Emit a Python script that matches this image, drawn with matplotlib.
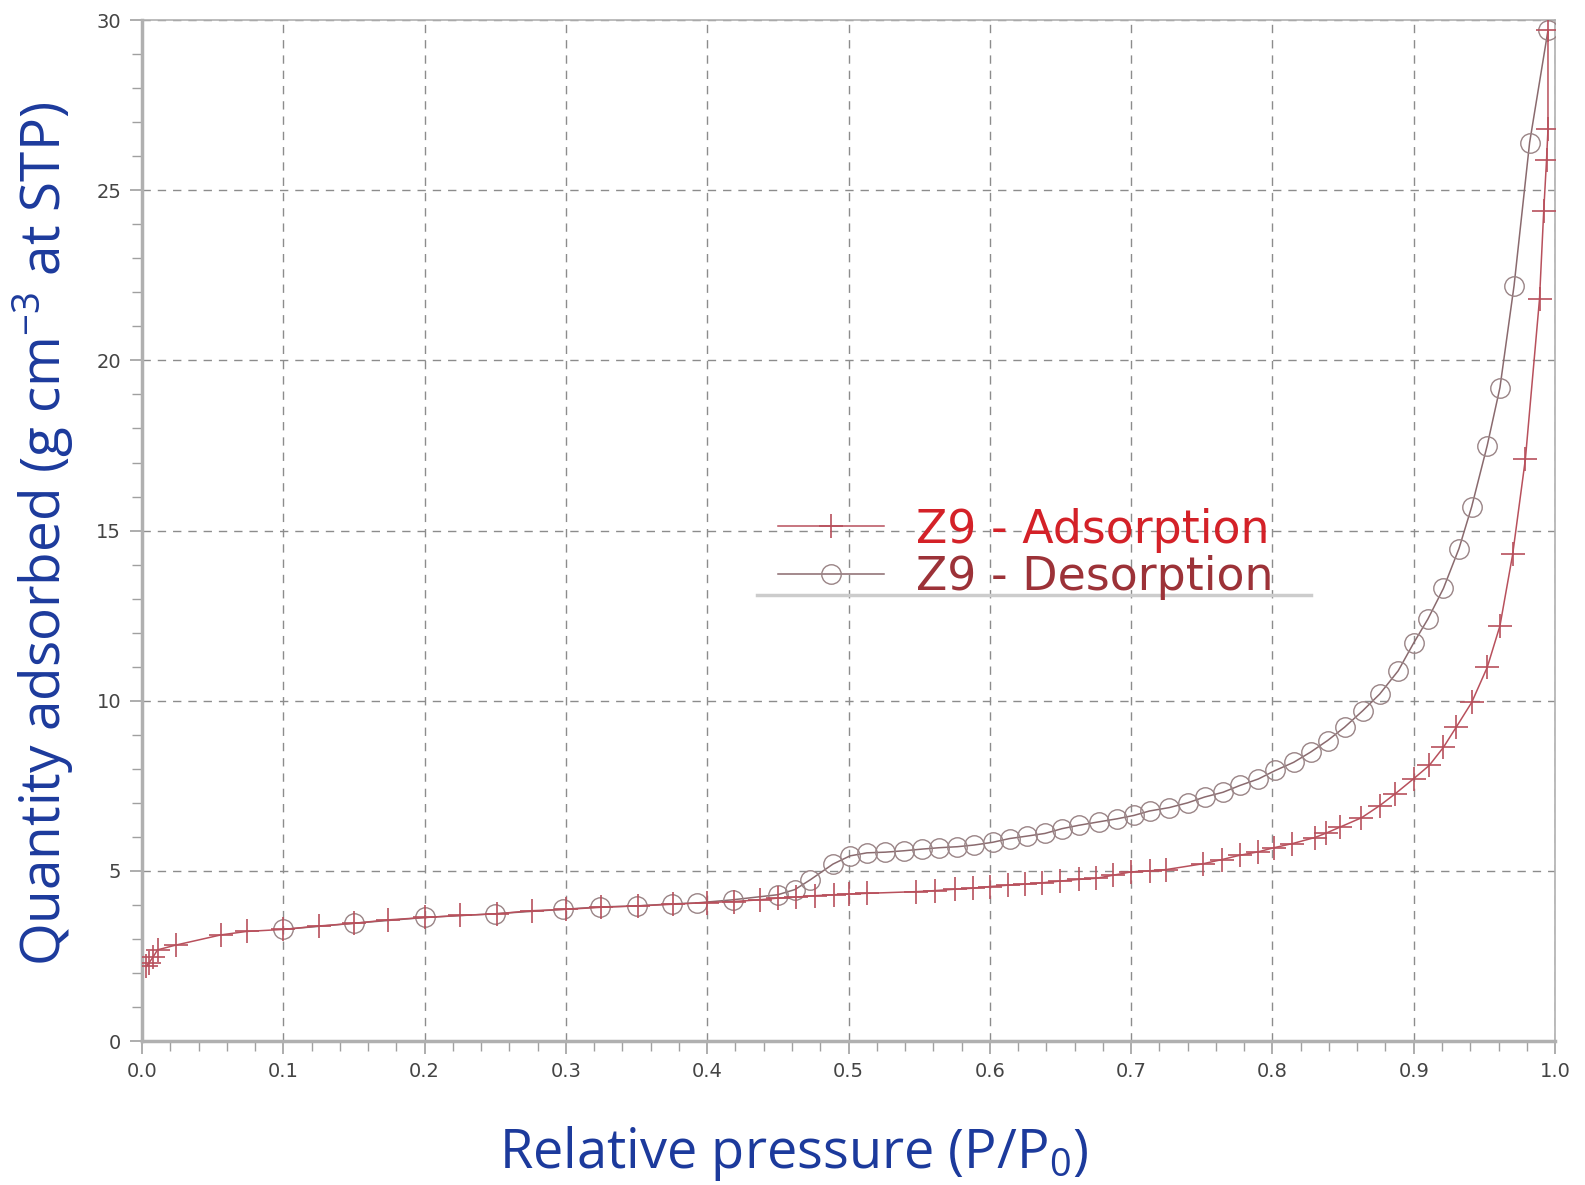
import matplotlib
matplotlib.use("Agg")
import matplotlib.pyplot as plt
from matplotlib.lines import Line2D
import numpy as np

# isotherm
ads_p = [0.003, 0.005, 0.008, 0.011, 0.024, 0.056, 0.074, 0.100, 0.125, 0.150,
         0.174, 0.200, 0.225, 0.251, 0.276, 0.300, 0.325, 0.351, 0.376, 0.400,
         0.419, 0.437, 0.450, 0.463, 0.476, 0.490, 0.500, 0.513, 0.548, 0.561,
         0.575, 0.588, 0.600, 0.613, 0.625, 0.637, 0.650, 0.663, 0.675, 0.687,
         0.700, 0.713, 0.725, 0.751, 0.764, 0.777, 0.790, 0.801, 0.814, 0.830,
         0.838, 0.848, 0.863, 0.876, 0.887, 0.900, 0.911, 0.921, 0.930, 0.941,
         0.952, 0.961, 0.970, 0.979, 0.989, 0.992, 0.994, 0.995, 0.995]
ads_q = [2.19, 2.30, 2.48, 2.68, 2.82, 3.12, 3.22, 3.28, 3.38, 3.46,
         3.56, 3.63, 3.69, 3.74, 3.83, 3.87, 3.93, 3.97, 4.02, 4.07,
         4.10, 4.15, 4.20, 4.23, 4.27, 4.30, 4.32, 4.34, 4.39, 4.42,
         4.46, 4.49, 4.54, 4.58, 4.61, 4.65, 4.70, 4.75, 4.78, 4.87,
         4.97, 5.00, 5.04, 5.21, 5.33, 5.46, 5.56, 5.68, 5.80, 5.98,
         6.11, 6.29, 6.56, 6.92, 7.27, 7.71, 8.10, 8.63, 9.22, 9.95,
         10.98, 12.2, 14.3, 17.1, 21.8, 24.4, 25.9, 26.8, 29.7]

des_p = [0.995, 0.982, 0.971, 0.961, 0.952, 0.941, 0.932, 0.921, 0.910, 0.900,
         0.889, 0.876, 0.864, 0.851, 0.839, 0.827, 0.815, 0.802, 0.790, 0.777,
         0.765, 0.752, 0.740, 0.727, 0.713, 0.702, 0.690, 0.677, 0.663, 0.651,
         0.639, 0.626, 0.614, 0.602, 0.589, 0.577, 0.564, 0.552, 0.539, 0.526,
         0.513, 0.501, 0.489, 0.473, 0.462, 0.450, 0.418, 0.393, 0.375, 0.350,
         0.324, 0.298, 0.250, 0.200, 0.150, 0.100]
des_q = [29.7, 26.4, 22.2, 19.2, 17.5, 15.7, 14.47, 13.3, 12.4, 11.7,
         10.88, 10.2, 9.71, 9.22, 8.83, 8.49, 8.19, 7.95, 7.70, 7.51,
         7.31, 7.17, 7.00, 6.86, 6.76, 6.63, 6.53, 6.44, 6.34, 6.24,
         6.10, 6.02, 5.95, 5.84, 5.76, 5.71, 5.68, 5.64, 5.59, 5.55,
         5.53, 5.44, 5.20, 4.74, 4.45, 4.30, 4.15, 4.06, 4.03, 3.97,
         3.94, 3.87, 3.74, 3.63, 3.46, 3.28]

x_ticks = np.arange(0, 1.01, 0.1)
y_ticks = [0, 5, 10, 15, 20, 25, 30]

ads_col = '#b8505c'
des_col = '#9a8486'
axis_blue = '#1c3a9c'
gray = '#a0a0a0'

plt.rcParams['mathtext.fontset'] = 'custom'
plt.rcParams['mathtext.rm'] = 'Open Sans'
plt.rcParams['mathtext.it'] = 'Open Sans:italic'

fig = plt.figure(figsize=(15.85, 11.85), dpi=100)
ax = fig.add_axes([0.0896, 0.1215, 0.8915, 0.8615])

ax.plot(des_p, des_q, color='#8a6a6e', lw=1.1, marker='o', ms=14,
        mfc='none', mec=des_col, mew=1.0, label='Z9 - Desorption', zorder=3)
ax.plot(ads_p, ads_q, color=ads_col, lw=1.1, marker='+', ms=17,
        mec=ads_col, mew=1.2, label='Z9 - Adsorption', zorder=4)

ax.set_xlim(0, 1.0)
ax.set_ylim(0, 30)
ax.set_xticks(x_ticks)
ax.set_xticklabels([f'{t:.1f}' for t in x_ticks])
ax.set_yticks(y_ticks)
ax.set_xticks(np.arange(0, 1.001, 0.02), minor=True)
ax.set_yticks(np.arange(0, 30.1, 1), minor=True)
ax.tick_params(axis='both', which='major', direction='out', length=9,
               width=1.2, color=gray, labelsize=14, labelcolor='#444444', pad=6)
ax.tick_params(axis='both', which='minor', direction='out', length=7,
               width=1.0, color=gray)
ax.grid(True, which='major', linestyle=(0, (6, 5)), color='#8c8c8c', lw=1.0)
for s in ax.spines.values():
    s.set_color('#b0b0b0')
    s.set_linewidth(1.2)
ax.spines['left'].set_linewidth(2.5)
ax.spines['bottom'].set_linewidth(2.5)

ax.set_xlabel('Relative pressure (P/P$_\\mathrm{0}$)', fontsize=39, color=axis_blue,
              family='Open Sans')
ax.xaxis.set_label_coords(0.461, -0.081)
ax.set_ylabel('Quantity adsorbed (g cm$^\\mathrm{-3}$ at STP)', fontsize=39.5,
              color=axis_blue, family='Open Sans')
ax.yaxis.set_label_coords(-0.047, 0.497)

# legend, order as in the picture
h, l = ax.get_legend_handles_labels()
leg = ax.legend(h[::-1], l[::-1], loc='upper left', bbox_to_anchor=(0.421, 0.563),
                frameon=False, prop={'family': 'DejaVu Sans', 'size': 33},
                handlelength=2.3, handletextpad=0.7, labelspacing=0.05)
leg.get_texts()[0].set_color('#d42128')
leg.get_texts()[1].set_color('#9c3238')
ax.add_line(Line2D([0.435, 0.827], [0.437, 0.437], transform=ax.transAxes,
                   color='#cccccc', lw=2.5, zorder=5))

fig.savefig('out.png', dpi=100)
